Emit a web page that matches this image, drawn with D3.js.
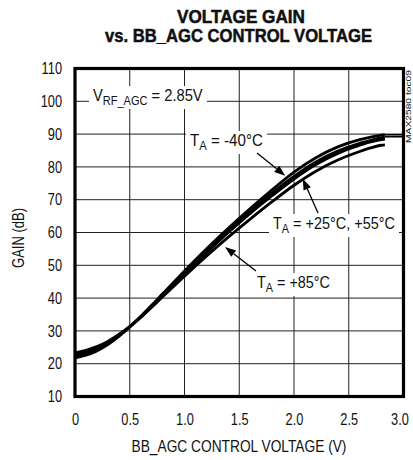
<!DOCTYPE html>
<html><head><meta charset="utf-8">
<script src="https://cdn.jsdelivr.net/npm/d3@7"></script>
<style>
html,body{margin:0;padding:0;background:#fff;}
svg{display:block;}
text{font-family:'Liberation Sans',Arial,sans-serif;fill:#111;}
</style></head>
<body><svg id="c" width="413" height="460"></svg>
<script>
// ---- data ----
const vctrl   = [0, 0.1, 0.2, 0.3, 0.4, 0.5, 0.6, 0.7, 0.8, 1.0, 1.2, 1.4, 1.6, 1.8, 2.0, 2.2, 2.4, 2.6, 2.7, 2.8, 2.83];
const gainM40 = [21.8, 22.6, 23.9, 25.8, 28.3, 31.2, 34.4, 37.8, 41.3, 48.3, 55.0, 61.3, 67.3, 73.0, 78.4, 82.8, 86.1, 88.3, 89.1, 89.7, 89.8];
const gainP25 = [22.4, 23.2, 24.4, 26.2, 28.5, 31.3, 34.3, 37.6, 41.0, 47.8, 54.4, 60.6, 66.5, 72.0, 77.1, 81.5, 84.8, 87.2, 88.1, 88.9, 89.1];
const gainP55 = [22.9, 23.6, 24.8, 26.5, 28.7, 31.3, 34.2, 37.4, 40.7, 47.3, 53.8, 60.0, 65.8, 71.2, 76.3, 80.7, 84.1, 86.6, 87.6, 88.3, 88.5];
const gainP85 = [23.4, 24.1, 25.2, 26.8, 28.9, 31.3, 34.1, 37.2, 40.4, 46.7, 52.8, 58.6, 64.1, 69.4, 74.4, 78.7, 82.1, 84.7, 85.8, 86.6, 86.7];
const satV    = [2.83, 3.0];
const satHi   = [89.8, 89.8];
const satLo   = [89.2, 89.2];
const xTicks  = [0, 0.5, 1.0, 1.5, 2.0, 2.5, 3.0];
const xTickLabels = ["0", "0.5", "1.0", "1.5", "2.0", "2.5", "3.0"];
const yTicks  = [10, 20, 30, 40, 50, 60, 70, 80, 90, 100, 110];

const svg = d3.select("#c");
const L = 75, R = 403.5, T = 68.5, B = 396.5;
const x = d3.scaleLinear().domain([0, 3]).range([L, R]);
const y = d3.scaleLinear().domain([10, 110]).range([B, T]);

// horizontal condensing helper (keeps the anchor point fixed)
function condense(el, s) {
  const ax = +(el.getAttribute("x") || 0);
  el.setAttribute("transform", (el.getAttribute("transform") || "") + ` translate(${ax},0) scale(${s},1) translate(${-ax},0)`);
}
function fitWidth(el, w) {
  const bw = el.getBBox().width;
  condense(el, w / bw);
}

// title
svg.append("text").attr("x", 241).attr("y", 23).attr("text-anchor", "middle")
  .attr("font-size", 18).attr("font-weight", "bold").attr("stroke", "#111").attr("stroke-width", 0.5)
  .attr("textLength", 128).attr("lengthAdjust", "spacingAndGlyphs").text("VOLTAGE GAIN");
svg.append("text").attr("x", 238.5).attr("y", 42).attr("text-anchor", "middle")
  .attr("font-size", 18).attr("font-weight", "bold").attr("stroke", "#111").attr("stroke-width", 0.5)
  .attr("textLength", 267).attr("lengthAdjust", "spacingAndGlyphs").text("vs. BB_AGC CONTROL VOLTAGE");

// grid
const g = svg.append("g");
g.selectAll(".vg").data(xTicks.slice(1, -1)).join("line")
  .attr("x1", d => x(d)).attr("x2", d => x(d)).attr("y1", T).attr("y2", B)
  .attr("stroke", "#222").attr("stroke-width", 1);
g.selectAll(".hg").data(yTicks.slice(1, -1)).join("line")
  .attr("y1", d => y(d)).attr("y2", d => y(d)).attr("x1", L).attr("x2", R)
  .attr("stroke", "#222").attr("stroke-width", 1);

// axes (labels only)
const xAxis = d3.axisBottom(x).tickValues(xTicks).tickFormat((d, i) => xTickLabels[i]).tickSize(0).tickPadding(17);
const xa = svg.append("g").attr("transform", `translate(0,${B})`).call(xAxis);
xa.select(".domain").remove();
xa.selectAll("text").attr("font-size", 16).attr("fill", "#111")
  .style("font-family", "'Liberation Sans',Arial,sans-serif")
  .each(function() { condense(this, 0.8); });
xa.selectAll(".tick").filter(d => d === 3).select("text").attr("dx", -5);

const yAxis = d3.axisLeft(y).tickValues(yTicks).tickSize(0).tickPadding(13);
const ya = svg.append("g").attr("transform", `translate(${L},0)`).call(yAxis);
ya.select(".domain").remove();
ya.selectAll("text").attr("font-size", 16).attr("fill", "#111")
  .style("font-family", "'Liberation Sans',Arial,sans-serif")
  .each(function() { condense(this, 0.8); });

const xt = svg.append("text").attr("x", 239).attr("y", 452).attr("text-anchor", "middle")
  .attr("font-size", 16).text("BB_AGC CONTROL VOLTAGE (V)");
fitWidth(xt.node(), 215);
const yt = svg.append("text").attr("x", 0).attr("y", 0).attr("text-anchor", "middle")
  .attr("font-size", 16).text("GAIN (dB)");
fitWidth(yt.node(), 60);
yt.attr("transform", "translate(24,238) rotate(-90) " + yt.attr("transform"));

// curves
const line = d3.line().x(d => x(d[0])).y(d => y(d[1])).curve(d3.curveMonotoneX);
const series = [gainP85, gainP55, gainP25, gainM40];
series.forEach(s => {
  svg.append("path").datum(vctrl.map((v, i) => [v, s[i]])).attr("d", line)
    .attr("fill", "none").attr("stroke", "#000").attr("stroke-width", 2.8);
});
[satHi, satLo].forEach(s => {
  svg.append("path").datum(satV.map((v, i) => [v, s[i]])).attr("d", line)
    .attr("fill", "none").attr("stroke", "#000").attr("stroke-width", 1.6);
});

// annotations
function label(px, py, main, sub, rest, w) {
  const grp = svg.append("g");
  const bg = grp.append("rect").attr("fill", "#fff");
  const t = grp.append("text").attr("x", px).attr("y", py).attr("font-size", 16);
  t.append("tspan").text(main);
  t.append("tspan").attr("dy", 4).attr("font-size", 12).text(sub);
  t.append("tspan").attr("dy", -4).text(rest);
  const bb = t.node().getBBox();
  const s = w / bb.width;
  condense(t.node(), s);
  bg.attr("x", px - 4).attr("y", bb.y - 1).attr("width", w + 8).attr("height", bb.height + 2);
  return grp;
}
function arrow(x1, y1, x2, y2) {
  const ang = Math.atan2(y2 - y1, x2 - x1);
  const len = 11, w = 4;
  const bx = x2 - len * Math.cos(ang), by = y2 - len * Math.sin(ang);
  svg.append("line").attr("x1", x1).attr("y1", y1).attr("x2", bx).attr("y2", by)
    .attr("stroke", "#000").attr("stroke-width", 1.3);
  svg.append("path").attr("d", `M${x2},${y2}L${bx - w * Math.sin(ang)},${by + w * Math.cos(ang)}L${bx + w * Math.sin(ang)},${by - w * Math.cos(ang)}Z`)
    .attr("fill", "#000");
}
label(93, 101, "V", "RF_AGC", " = 2.85V", 110);
label(190, 146, "T", "A", " = -40°C", 73);
label(273, 229, "T", "A", " = +25°C, +55°C", 122);
label(257, 288, "T", "A", " = +85°C", 73);

arrow(257, 153, x(1.92), y(77.0) - 1);
arrow(318, 213, x(2.08), y(77.0) + 2);
arrow(256, 271, x(1.37), y(55.6));

// watermark
svg.append("text").attr("transform", "translate(411,143) rotate(-90)").attr("font-size", 8)
  .attr("fill", "#333").attr("textLength", 73).attr("lengthAdjust", "spacingAndGlyphs").text("MAX2580 toc09");

// frame
svg.append("rect").attr("x", L).attr("y", T).attr("width", R - L).attr("height", B - T)
  .attr("fill", "none").attr("stroke", "#000").attr("stroke-width", 3.2);
</script></body></html>
